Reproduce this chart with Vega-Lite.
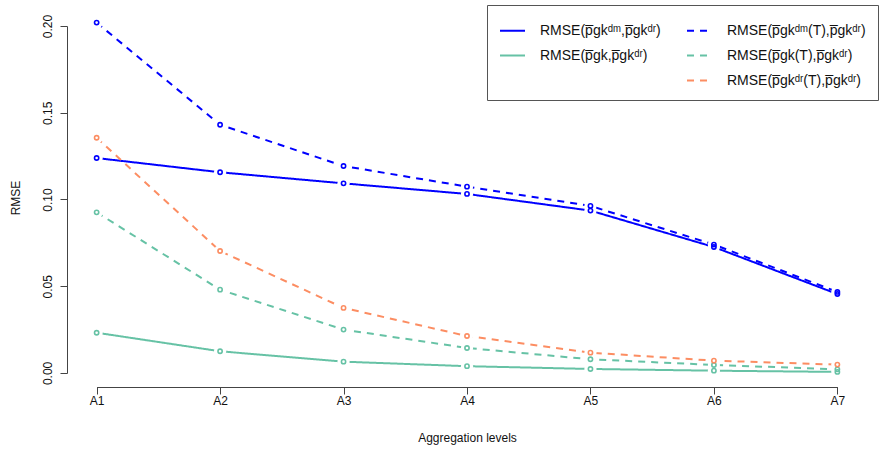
{
  "$schema": "https://vega.github.io/schema/vega-lite/v6.json",
  "width": 800,
  "height": 379,
  "autosize": {"type": "none"},
  "padding": {"left": 67, "top": 8, "right": 13, "bottom": 62},
  "config": {
    "font": "Liberation Sans",
    "view": {"stroke": null},
    "axis": {
      "grid": false,
      "domainColor": "#444",
      "tickColor": "#444",
      "labelColor": "#111",
      "titleColor": "#111",
      "labelFontSize": 12,
      "titleFontSize": 12,
      "titleFontWeight": "normal",
      "tickSize": 7
    }
  },
  "data": {
    "values": [
      {"level": "A1", "series": "RMSE(p\u0305gk\u1d48\u1d50,p\u0305gk\u1d48\u02b3)", "rmse": 0.1239},
      {"level": "A2", "series": "RMSE(p\u0305gk\u1d48\u1d50,p\u0305gk\u1d48\u02b3)", "rmse": 0.1157},
      {"level": "A3", "series": "RMSE(p\u0305gk\u1d48\u1d50,p\u0305gk\u1d48\u02b3)", "rmse": 0.1093},
      {"level": "A4", "series": "RMSE(p\u0305gk\u1d48\u1d50,p\u0305gk\u1d48\u02b3)", "rmse": 0.1032},
      {"level": "A5", "series": "RMSE(p\u0305gk\u1d48\u1d50,p\u0305gk\u1d48\u02b3)", "rmse": 0.0936},
      {"level": "A6", "series": "RMSE(p\u0305gk\u1d48\u1d50,p\u0305gk\u1d48\u02b3)", "rmse": 0.0726},
      {"level": "A7", "series": "RMSE(p\u0305gk\u1d48\u1d50,p\u0305gk\u1d48\u02b3)", "rmse": 0.0455},
      {"level": "A1", "series": "RMSE(p\u0305gk\u1d48\u1d50(T),p\u0305gk\u1d48\u02b3)", "rmse": 0.2020},
      {"level": "A2", "series": "RMSE(p\u0305gk\u1d48\u1d50(T),p\u0305gk\u1d48\u02b3)", "rmse": 0.1431},
      {"level": "A3", "series": "RMSE(p\u0305gk\u1d48\u1d50(T),p\u0305gk\u1d48\u02b3)", "rmse": 0.1193},
      {"level": "A4", "series": "RMSE(p\u0305gk\u1d48\u1d50(T),p\u0305gk\u1d48\u02b3)", "rmse": 0.1074},
      {"level": "A5", "series": "RMSE(p\u0305gk\u1d48\u1d50(T),p\u0305gk\u1d48\u02b3)", "rmse": 0.0963},
      {"level": "A6", "series": "RMSE(p\u0305gk\u1d48\u1d50(T),p\u0305gk\u1d48\u02b3)", "rmse": 0.0740},
      {"level": "A7", "series": "RMSE(p\u0305gk\u1d48\u1d50(T),p\u0305gk\u1d48\u02b3)", "rmse": 0.0467},
      {"level": "A1", "series": "RMSE(p\u0305gk,p\u0305gk\u1d48\u02b3)", "rmse": 0.0232},
      {"level": "A2", "series": "RMSE(p\u0305gk,p\u0305gk\u1d48\u02b3)", "rmse": 0.0125},
      {"level": "A3", "series": "RMSE(p\u0305gk,p\u0305gk\u1d48\u02b3)", "rmse": 0.0065},
      {"level": "A4", "series": "RMSE(p\u0305gk,p\u0305gk\u1d48\u02b3)", "rmse": 0.0039},
      {"level": "A5", "series": "RMSE(p\u0305gk,p\u0305gk\u1d48\u02b3)", "rmse": 0.0023},
      {"level": "A6", "series": "RMSE(p\u0305gk,p\u0305gk\u1d48\u02b3)", "rmse": 0.0013},
      {"level": "A7", "series": "RMSE(p\u0305gk,p\u0305gk\u1d48\u02b3)", "rmse": 0.0006},
      {"level": "A1", "series": "RMSE(p\u0305gk(T),p\u0305gk\u1d48\u02b3)", "rmse": 0.0926},
      {"level": "A2", "series": "RMSE(p\u0305gk(T),p\u0305gk\u1d48\u02b3)", "rmse": 0.0480},
      {"level": "A3", "series": "RMSE(p\u0305gk(T),p\u0305gk\u1d48\u02b3)", "rmse": 0.0250},
      {"level": "A4", "series": "RMSE(p\u0305gk(T),p\u0305gk\u1d48\u02b3)", "rmse": 0.0144},
      {"level": "A5", "series": "RMSE(p\u0305gk(T),p\u0305gk\u1d48\u02b3)", "rmse": 0.0079},
      {"level": "A6", "series": "RMSE(p\u0305gk(T),p\u0305gk\u1d48\u02b3)", "rmse": 0.0046},
      {"level": "A7", "series": "RMSE(p\u0305gk(T),p\u0305gk\u1d48\u02b3)", "rmse": 0.0021},
      {"level": "A1", "series": "RMSE(p\u0305gk\u1d48\u02b3(T),p\u0305gk\u1d48\u02b3)", "rmse": 0.1356},
      {"level": "A2", "series": "RMSE(p\u0305gk\u1d48\u02b3(T),p\u0305gk\u1d48\u02b3)", "rmse": 0.0703},
      {"level": "A3", "series": "RMSE(p\u0305gk\u1d48\u02b3(T),p\u0305gk\u1d48\u02b3)", "rmse": 0.0375},
      {"level": "A4", "series": "RMSE(p\u0305gk\u1d48\u02b3(T),p\u0305gk\u1d48\u02b3)", "rmse": 0.0213},
      {"level": "A5", "series": "RMSE(p\u0305gk\u1d48\u02b3(T),p\u0305gk\u1d48\u02b3)", "rmse": 0.0117},
      {"level": "A6", "series": "RMSE(p\u0305gk\u1d48\u02b3(T),p\u0305gk\u1d48\u02b3)", "rmse": 0.0071},
      {"level": "A7", "series": "RMSE(p\u0305gk\u1d48\u02b3(T),p\u0305gk\u1d48\u02b3)", "rmse": 0.0048}
    ]
  },
  "encoding": {
    "x": {
      "field": "level",
      "type": "ordinal",
      "scale": {"type": "point", "padding": 0.24},
      "axis": {
        "title": "Aggregation levels",
        "labelAngle": 0,
        "labelPadding": 1,
        "titlePadding": 26,
        "domainDash": [0, 29.6, 740.8, 200]
      }
    },
    "y": {
      "field": "rmse",
      "type": "quantitative",
      "scale": {"domain": [-0.0081, 0.2104], "nice": false, "zero": false},
      "axis": {
        "title": "RMSE",
        "values": [0, 0.05, 0.1, 0.15, 0.2],
        "format": ".2f",
        "labelAngle": 270,
        "labelAlign": "center",
        "labelBaseline": "bottom",
        "labelPadding": 6,
        "titlePadding": 19,
        "domainDash": [0, 14, 347, 200]
      }
    }
  },
  "layer": [
    {
      "mark": {"type": "line", "strokeWidth": 2},
      "encoding": {
        "color": {
          "field": "series",
          "type": "nominal",
          "sort": null,
          "scale": {
            "domain": [
              "RMSE(p\u0305gk\u1d48\u1d50,p\u0305gk\u1d48\u02b3)",
              "RMSE(p\u0305gk,p\u0305gk\u1d48\u02b3)",
              " ",
              "RMSE(p\u0305gk\u1d48\u1d50(T),p\u0305gk\u1d48\u02b3)",
              "RMSE(p\u0305gk(T),p\u0305gk\u1d48\u02b3)",
              "RMSE(p\u0305gk\u1d48\u02b3(T),p\u0305gk\u1d48\u02b3)"
            ],
            "range": ["#0000FF", "#66C2A5", "transparent", "#0000FF", "#66C2A5", "#FC8D62"]
          },
          "legend": {
            "orient": "none",
            "legendX": 420,
            "legendY": -3,
            "title": null,
            "columns": 2,
            "symbolType": "stroke",
            "symbolSize": 625,
            "symbolStrokeWidth": 2,
            "labelFontSize": 14,
            "labelColor": "#111",
            "labelOffset": 14,
            "labelLimit": 300,
            "padding": 12,
            "rowPadding": 4,
            "columnPadding": 22,
            "strokeColor": "#555",
            "fillColor": "white"
          }
        },
        "strokeDash": {
          "field": "series",
          "type": "nominal",
          "sort": null,
          "scale": {
            "domain": [
              "RMSE(p\u0305gk\u1d48\u1d50,p\u0305gk\u1d48\u02b3)",
              "RMSE(p\u0305gk,p\u0305gk\u1d48\u02b3)",
              " ",
              "RMSE(p\u0305gk\u1d48\u1d50(T),p\u0305gk\u1d48\u02b3)",
              "RMSE(p\u0305gk(T),p\u0305gk\u1d48\u02b3)",
              "RMSE(p\u0305gk\u1d48\u02b3(T),p\u0305gk\u1d48\u02b3)"
            ],
            "range": [[1, 0], [1, 0], [1, 0], [7, 6], [7, 6], [7, 6]]
          }
        }
      }
    },
    {
      "mark": {"type": "point", "shape": "circle", "filled": true, "size": 150, "color": "white", "opacity": 1},
      "encoding": {}
    },
    {
      "mark": {"type": "point", "shape": "circle", "filled": false, "size": 18, "strokeWidth": 1.6, "opacity": 1},
      "encoding": {
        "color": {"field": "series", "type": "nominal", "sort": null}
      }
    }
  ]
}
